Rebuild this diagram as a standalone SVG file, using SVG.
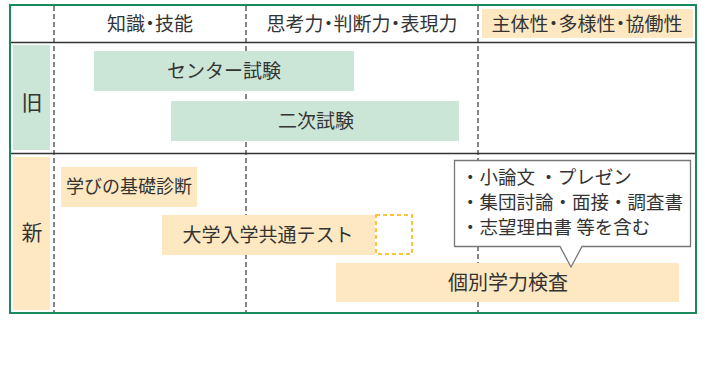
<svg xmlns="http://www.w3.org/2000/svg" width="720" height="380" viewBox="0 0 720 380">
<style>
text{font-family:"Noto Sans CJK JP","Noto Sans",sans-serif;fill:#333}
.h{font-size:19px}
.b{font-size:19px}
.k{font-size:18px}
.l{font-size:21px}
.p{font-size:20px}
.c{font-size:18.5px}
.g{fill:#cbe5d6}
.y{fill:#fde8c2}
.dash{stroke:#333;stroke-width:1.2;stroke-dasharray:5 3;fill:none}
.rule{stroke:#333;stroke-width:1.5;fill:none}
</style>
<rect x="0" y="0" width="720" height="380" fill="#fff"/>
<g id="grid">
<line class="dash" x1="54" y1="6" x2="54" y2="313"/>
<line class="dash" x1="246" y1="6" x2="246" y2="313"/>
<line class="dash" x1="478" y1="6" x2="478" y2="313"/>
<line class="rule" x1="11" y1="42.5" x2="696" y2="42.5"/>
<line class="rule" x1="11" y1="153.5" x2="696" y2="153.5"/>
</g>
<g id="header">
<text class="h" x="150" y="31" text-anchor="middle">知識<tspan dx="-4.5">・</tspan><tspan dx="-4.5">技能</tspan></text>
<text class="h" x="362" y="31" text-anchor="middle">思考力<tspan dx="-4.5">・</tspan><tspan dx="-4.5">判断力</tspan><tspan dx="-4.5">・</tspan><tspan dx="-4.5">表現力</tspan></text>
<rect class="y" x="482" y="9" width="211" height="29"/>
<text class="h" x="587" y="31" text-anchor="middle">主体性<tspan dx="-4.5">・</tspan><tspan dx="-4.5">多様性</tspan><tspan dx="-4.5">・</tspan><tspan dx="-4.5">協働性</tspan></text>
</g>
<g id="old">
<rect class="g" x="13" y="45" width="37" height="105"/>
<text class="l" x="32" y="110" text-anchor="middle">旧</text>
</g>
<g id="center">
<rect class="g" x="94" y="51" width="260" height="40"/>
<text class="b" x="224" y="78" text-anchor="middle">センター試験</text>
</g>
<g id="niji">
<rect class="g" x="171" y="101" width="288" height="40"/>
<text class="b" x="316" y="128" text-anchor="middle">二次試験</text>
</g>
<g id="new">
<rect class="y" x="13" y="157" width="37" height="153"/>
<text class="l" x="32" y="240" text-anchor="middle">新</text>
</g>
<g id="kiso">
<rect class="y" x="61" y="167" width="136" height="40"/>
<text class="k" x="129" y="193" text-anchor="middle">学びの基礎診断</text>
</g>
<g id="kyotsu">
<rect class="y" x="162" y="215" width="213" height="40"/>
<text class="b" x="268" y="242" text-anchor="middle">大学入学共通テスト</text>
<rect x="376" y="215" width="36" height="39" fill="none" stroke="#f7c440" stroke-width="2" stroke-dasharray="4 3"/>
</g>
<g id="kobetsu">
<rect class="y" x="336" y="263" width="343" height="39"/>
<text class="p" x="508" y="290" text-anchor="middle">個別学力検査</text>
</g>
<g id="callout">
<path d="M454.5 160.5 H690.5 V246.5 H582 L571 267 L560 246.5 H454.5 Z" fill="#fff" stroke="#777" stroke-width="1.3"/>
<text class="c" x="461" y="184">・小論文 ・プレゼン</text>
<text class="c" x="461" y="209">・集団討論・面接・調査書</text>
<text class="c" x="461" y="234">・志望理由書 等を含む</text>
</g>
<rect x="10" y="5" width="686" height="308" fill="none" stroke="#1a8a5c" stroke-width="2"/>
</svg>
